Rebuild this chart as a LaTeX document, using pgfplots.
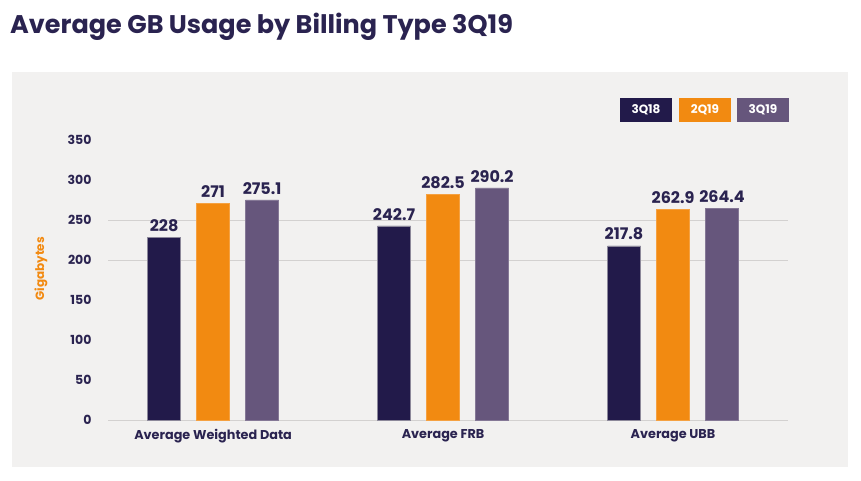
\documentclass[border=0pt]{standalone}
\usepackage{pgfplots}
\pgfplotsset{compat=1.18}
\usepackage{fontspec}
\setmainfont{Poppins}
\definecolor{navy}{HTML}{221A4A}
\definecolor{orng}{HTML}{F28A11}
\definecolor{purp}{HTML}{66567C}
\definecolor{panel}{HTML}{F2F1F0}
\definecolor{gridc}{HTML}{D3D1D0}
\definecolor{txt}{HTML}{2A2350}
\begin{document}
\begin{tikzpicture}[x=1pt,y=1pt]
\useasboundingbox (0,0) rectangle (861,480);
\fill[white] (0,0) rectangle (861,480);
\fill[panel] (12,13) rectangle (848,408);
\node[anchor=base west,inner sep=0,font=\fontsize{25.5}{28}\selectfont\bfseries,text=txt] at (10,446) {Average GB Usage by Billing Type 3Q19};
\begin{axis}[
  at={(108pt,60pt)}, anchor=south west,
  scale only axis, width=680pt, height=280pt,
  xmin=-0.457, xmax=2.5, ymin=0, ymax=350,
  /pgf/number format/assume math mode=true,
  axis line style={draw=none},
  ytick={0,50,...,350},
  xtick={0,1,2},
  xticklabels={Average Weighted Data,Average FRB,Average UBB},
  major tick length=0pt,
  yticklabel style={font=\fontsize{12.5}{14}\selectfont\bfseries,text=txt,xshift=-13pt},
  xticklabel style={font=\fontsize{12.8}{15}\selectfont\bfseries,text=txt,yshift=-6pt},
  extra y ticks={0,200,250},
  extra y tick labels={},
  extra y tick style={grid=major,major grid style={gridc,line width=0.9pt}},
  ylabel={Gigabytes},
  ylabel style={font=\fontsize{12}{14}\selectfont\bfseries,text=orng,at={(axis description cs:-0.0985,0.54)},anchor=center},
  ybar, bar width=33pt,
  nodes near coords,
  nodes near coords style={font=\fontsize{16}{18}\selectfont\bfseries,text=txt,inner sep=2.5pt,yshift=3pt},
  clip=false,
]
\addplot[fill=navy,draw=gridc!60!navy,line width=0.4pt,bar shift=-49pt] coordinates {(0,228) (1,242.7) (2,217.8)};
\addplot[fill=orng,draw=orng!80!white,line width=0.4pt,bar shift=0pt] coordinates {(0,271) (1,282.5) (2,262.9)};
\addplot[fill=purp,draw=purp!80!white,line width=0.4pt,bar shift=49pt] coordinates {(0,275.1) (1,290.2) (2,264.4)};
\end{axis}
\begin{scope}[every node/.style={minimum width=52pt,minimum height=24pt,inner sep=0,text=white,font=\fontsize{12}{14}\selectfont\bfseries}]
\node[fill=navy] at (646,370) {3Q18};
\node[fill=orng] at (705,370) {2Q19};
\node[fill=purp] at (763,370) {3Q19};
\end{scope}
\end{tikzpicture}
\end{document}
